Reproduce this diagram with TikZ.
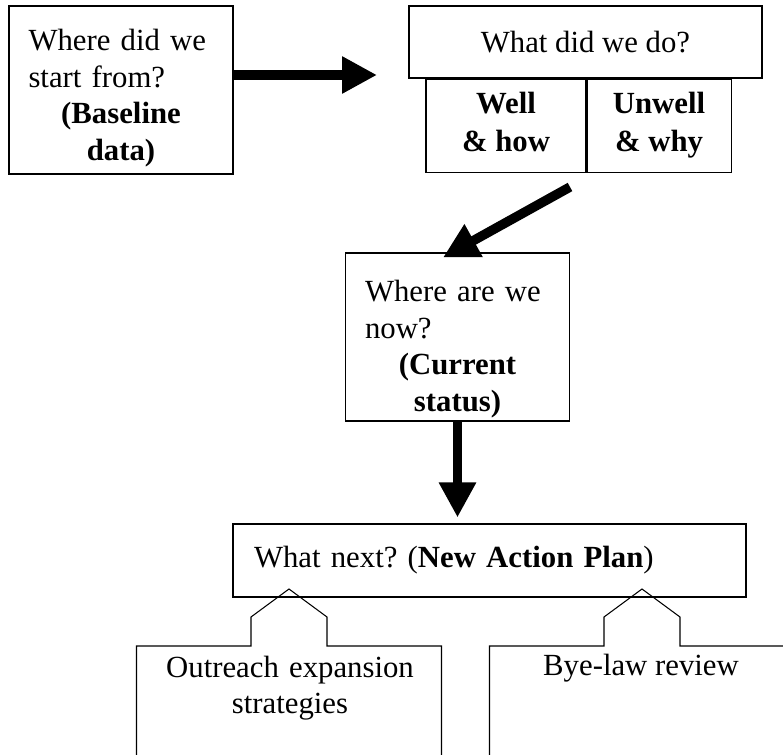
\documentclass[tikz,border=0pt]{standalone}
\usepackage{fontspec}
\setmainfont{Liberation Serif}
\usetikzlibrary{arrows.meta,positioning}
\frenchspacing

\begin{document}
\begin{tikzpicture}[font=\fontsize{17.5}{20.8}\selectfont,
  block/.style={draw, line width=0.6pt, minimum width=4.48cm, minimum height=3.36cm, text width=3.7cm, inner ysep=0pt, align=left},
  halfbox/.style={draw, line width=0.6pt, minimum height=1.86cm, align=center, font=\fontsize{17.5}{21.6}\selectfont\bfseries},
  bigarrow/.style={line width=0.19cm, -{Triangle[length=0.7cm, width=0.7cm]}},
  tab/.style={draw, line width=0.6pt}]

  \useasboundingbox (0,0) rectangle (15.66,-15.1);
  \clip (0,0) rectangle (15.66,-15.1);

  % Question boxes
  \node[block, text height=0.75cm] (start) at (2.42,-1.80) {{\raggedright Where did we\\start from?\par}{\centering\bfseries (Baseline\\data)\par}};
  \node[block, text height=0.91cm] (where) at (9.15,-6.74) {{\raggedright Where are we\\now?\par}{\centering\bfseries (Current\\status)\par}};

  % What did we do
  \node[draw, line width=0.6pt, minimum width=7.06cm, minimum height=1.44cm] (done) at (11.71,-0.84) {What did we do?};
  \node[halfbox, minimum width=3.2cm, anchor=north west] (well) at ([xshift=0.34cm]done.south west) {Well\\\& how\vphantom{y}};
  \node[halfbox, minimum width=2.88cm, anchor=west] (unwell) at (well.east) {Unwell\\\& why};

  % What next
  \node[draw, line width=0.6pt, minimum width=10.26cm, minimum height=1.46cm, text width=9.42cm, align=left] (next) at (9.79,-11.21) {What next? (\textbf{New Action Plan})};

  % Callouts
  \draw[tab, shift={(5.78,-12.92)}] (-3.05,-5) -- (-3.05,0) -- (-0.76,0) -- (-0.76,0.58) -- (0,1.14) -- (0.76,0.58) -- (0.76,0) -- (3.05,0) -- (3.05,-5);
  \draw[tab, shift={(12.84,-12.92)}] (-3.05,-5) -- (-3.05,0) -- (-0.76,0) -- (-0.76,0.58) -- (0,1.14) -- (0.76,0.58) -- (0.76,0) -- (3.05,0) -- (3.05,-5);
  \node[text width=5.8cm, align=center] (outreach) at (5.8,-13.76) {Outreach expansion\\strategies};
  \node[align=center] (byelaw) at (12.82,-13.36) {Bye-law review};

  % Arrows
  \coordinate (a1) at (7.54,-1.5);
  \coordinate (a2) at (11.4,-3.74);
  \draw[bigarrow] ([yshift=0.3cm]start.east) -- (a1);
  \draw[bigarrow] (a2) -- ([xshift=-0.29cm, yshift=-0.1cm]where.north);
  \draw[bigarrow] (where.south) -- ([yshift=0.12cm]where.south |- next.north);

\end{tikzpicture}
\end{document}
